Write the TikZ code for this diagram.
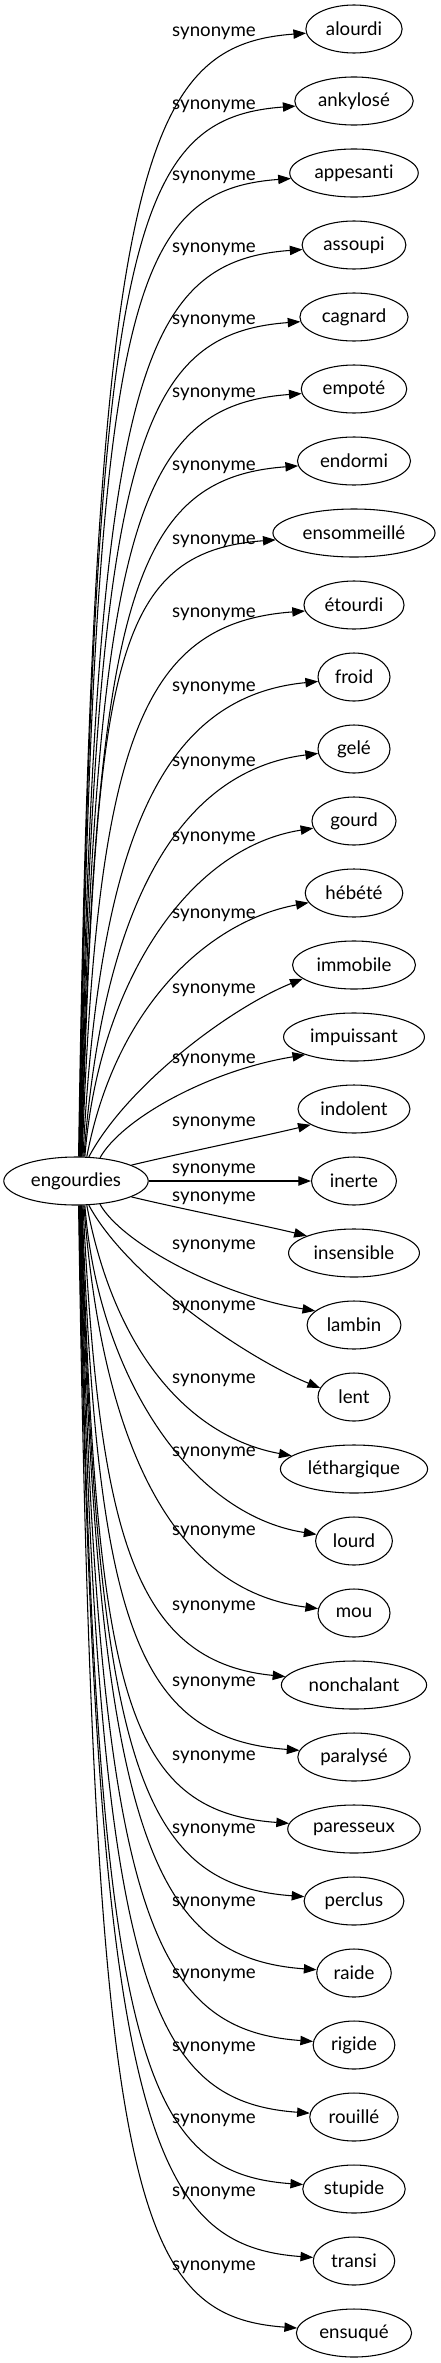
\documentclass[tikz,border=0pt]{standalone}
\usepackage{fontspec}
\setmainfont{Lato}[Ligatures={NoCommon}]
\usepackage{tikz}
\usetikzlibrary{shapes.geometric, arrows.meta}

\begin{document}
\begin{tikzpicture}[
    x=0.75pt, y=-0.75pt,
    headword/.style={draw, ellipse, line width=0.8pt, inner xsep=4.5pt, inner ysep=2pt, minimum width=54pt, minimum height=36pt, font=\fontsize{14pt}{16pt}\selectfont},
    relation/.style={inner sep=0pt, font=\fontsize{14pt}{16pt}\selectfont},
    link/.style={line width=0.8pt, -{Triangle[length=9.5pt, width=7pt]}}
]
    \useasboundingbox (0,0) rectangle (441,2363);

    % Source word
    \node[headword] (engourdies) at (76,1181) {engourdies};

    % Synonyms
    \node[headword] (aloudi) at (354,29) {alourdi};
    \node[headword] (ankylose) at (354,101) {ankylosé};
    \node[headword] (appesanti) at (354,173) {appesanti};
    \node[headword] (assoupi) at (354,245) {assoupi};
    \node[headword] (cagnard) at (354,317) {cagnard};
    \node[headword] (empote) at (354,389) {empoté};
    \node[headword] (endormi) at (354,461) {endormi};
    \node[headword] (ensommeille) at (354,533) {ensommeillé};
    \node[headword] (etourdi) at (354,605) {étourdi};
    \node[headword] (froid) at (354,677) {froid};
    \node[headword] (gele) at (354,749) {gelé};
    \node[headword] (gourd) at (354,821) {gourd};
    \node[headword] (hebete) at (354,893) {hébété};
    \node[headword] (immobile) at (354,965) {immobile};
    \node[headword] (impuissant) at (354,1037) {impuissant};
    \node[headword] (indolent) at (354,1109) {indolent};
    \node[headword] (inerte) at (354,1181) {inerte};
    \node[headword] (insensible) at (354,1253) {insensible};
    \node[headword] (lambin) at (354,1325) {lambin};
    \node[headword] (lent) at (354,1397) {lent};
    \node[headword] (lethargique) at (354,1469) {léthargique};
    \node[headword] (lourd) at (354,1541) {lourd};
    \node[headword] (mou) at (354,1613) {mou};
    \node[headword] (nonchalant) at (354,1685) {nonchalant};
    \node[headword] (paralyse) at (354,1757) {paralysé};
    \node[headword] (paresseux) at (354,1829) {paresseux};
    \node[headword] (perclus) at (354,1901) {perclus};
    \node[headword] (raide) at (354,1973) {raide};
    \node[headword] (rigide) at (354,2045) {rigide};
    \node[headword] (rouille) at (354,2117) {rouillé};
    \node[headword] (stupide) at (354,2189) {stupide};
    \node[headword] (transi) at (354,2261) {transi};
    \node[headword] (ensuque) at (354,2333) {ensuqué};

    % Edge labels
    \node[relation] (rel-aloudi) at (214,33) {synonyme};
    \node[relation] (rel-ankylose) at (214,106) {synonyme};
    \node[relation] (rel-appesanti) at (214,177) {synonyme};
    \node[relation] (rel-assoupi) at (214,249) {synonyme};
    \node[relation] (rel-cagnard) at (214,321) {synonyme};
    \node[relation] (rel-empote) at (214,394) {synonyme};
    \node[relation] (rel-endormi) at (214,467) {synonyme};
    \node[relation] (rel-ensommeille) at (214,541) {synonyme};
    \node[relation] (rel-etourdi) at (214,614) {synonyme};
    \node[relation] (rel-froid) at (214,688) {synonyme};
    \node[relation] (rel-gele) at (214,763) {synonyme};
    \node[relation] (rel-gourd) at (214,838) {synonyme};
    \node[relation] (rel-hebete) at (214,915) {synonyme};
    \node[relation] (rel-immobile) at (214,990) {synonyme};
    \node[relation] (rel-impuissant) at (214,1060) {synonyme};
    \node[relation] (rel-indolent) at (214,1123) {synonyme};
    \node[relation] (rel-inerte) at (214,1170) {synonyme};
    \node[relation] (rel-insensible) at (214,1198) {synonyme};
    \node[relation] (rel-lambin) at (214,1246) {synonyme};
    \node[relation] (rel-lent) at (214,1307) {synonyme};
    \node[relation] (rel-lethargique) at (214,1380) {synonyme};
    \node[relation] (rel-lourd) at (214,1453) {synonyme};
    \node[relation] (rel-mou) at (214,1532) {synonyme};
    \node[relation] (rel-nonchalant) at (214,1607) {synonyme};
    \node[relation] (rel-paralyse) at (214,1683) {synonyme};
    \node[relation] (rel-paresseux) at (214,1757) {synonyme};
    \node[relation] (rel-perclus) at (214,1830) {synonyme};
    \node[relation] (rel-raide) at (214,1903) {synonyme};
    \node[relation] (rel-rigide) at (214,1975) {synonyme};
    \node[relation] (rel-rouille) at (214,2048) {synonyme};
    \node[relation] (rel-stupide) at (214,2120) {synonyme};
    \node[relation] (rel-transi) at (214,2193) {synonyme};
    \node[relation] (rel-ensuque) at (214,2267) {synonyme};

    % Upper edges
    \draw[link] (engourdies.84) .. controls +(15,-989) and +(-165,12) .. (aloudi.185);
    \draw[link] (engourdies.83) .. controls +(15,-917) and +(-165,12) .. (ankylose.185);
    \draw[link] (engourdies.82) .. controls +(15,-845) and +(-165,12) .. (appesanti.185);
    \draw[link] (engourdies.81) .. controls +(15,-773) and +(-165,12) .. (assoupi.185);
    \draw[link] (engourdies.80) .. controls +(15,-701) and +(-165,12) .. (cagnard.185);
    \draw[link] (engourdies.79) .. controls +(15,-629) and +(-165,12) .. (empote.185);
    \draw[link] (engourdies.78) .. controls +(15,-557) and +(-165,12) .. (endormi.185);
    \draw[link] (engourdies.77) .. controls +(15,-485) and +(-165,12) .. (ensommeille.185);
    \draw[link] (engourdies.76) .. controls +(15,-413) and +(-165,12) .. (etourdi.187);
    \draw[link] (engourdies.74) .. controls +(16,-320) and +(-155,15) .. (froid.187);
    \draw[link] (engourdies.72) .. controls +(18,-240) and +(-145,18) .. (gele.187);
    \draw[link] (engourdies.70) .. controls +(13,-168) and +(-128,20) .. (gourd.190);
    \draw[link] (engourdies.66) .. controls +(29,-153) and +(-98,18) .. (hebete.192);
    \draw[link] (engourdies.62) .. controls +(38,-71) and +(-74,30) .. (immobile.195);
    \draw[link] (engourdies.44) .. controls +(21,-38) and +(-98,16) .. (impuissant.200);
    \draw[link] (engourdies.16) .. controls +(50,-12) and +(-50,12) .. (indolent.200);

    % Straight edge
    \draw[link] (engourdies.east) -- (inerte.west);

    % Lower edges
    \draw[link] (engourdies.344) .. controls +(50,12) and +(-50,-12) .. (insensible.160);
    \draw[link] (engourdies.316) .. controls +(21,38) and +(-98,-16) .. (lambin.160);
    \draw[link] (engourdies.298) .. controls +(38,71) and +(-74,-30) .. (lent.165);
    \draw[link] (engourdies.294) .. controls +(29,153) and +(-98,-18) .. (lethargique.168);
    \draw[link] (engourdies.290) .. controls +(13,168) and +(-128,-20) .. (lourd.170);
    \draw[link] (engourdies.288) .. controls +(18,240) and +(-145,-18) .. (mou.173);
    \draw[link] (engourdies.286) .. controls +(16,320) and +(-155,-15) .. (nonchalant.173);
    \draw[link] (engourdies.284) .. controls +(15,413) and +(-165,-12) .. (paralyse.173);
    \draw[link] (engourdies.283) .. controls +(15,485) and +(-165,-12) .. (paresseux.175);
    \draw[link] (engourdies.282) .. controls +(15,557) and +(-165,-12) .. (perclus.175);
    \draw[link] (engourdies.281) .. controls +(15,629) and +(-165,-12) .. (raide.175);
    \draw[link] (engourdies.280) .. controls +(15,701) and +(-165,-12) .. (rigide.175);
    \draw[link] (engourdies.279) .. controls +(15,773) and +(-165,-12) .. (rouille.175);
    \draw[link] (engourdies.278) .. controls +(15,845) and +(-165,-12) .. (stupide.175);
    \draw[link] (engourdies.277) .. controls +(15,917) and +(-165,-12) .. (transi.175);
    \draw[link] (engourdies.276) .. controls +(15,989) and +(-165,-12) .. (ensuque.175);
\end{tikzpicture}
\end{document}
